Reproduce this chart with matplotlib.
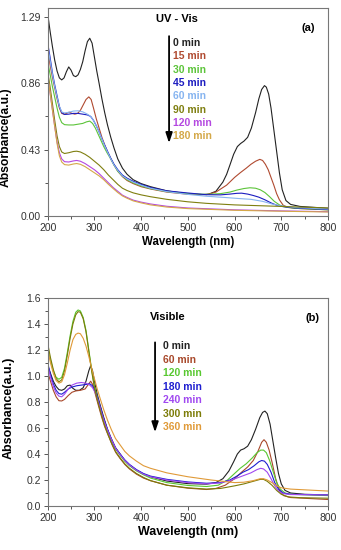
import matplotlib
matplotlib.use("Agg")
import matplotlib.pyplot as plt
from matplotlib.ticker import MultipleLocator, FixedLocator

# ---------------- Panel (a) UV-Vis ----------------
a_labels = ["0 min", "15 min", "30 min", "45 min", "60 min", "90 min", "120 min", "180 min"]
a_colors = ["#222222", "#b04a30", "#5cc43a", "#1c1cc0", "#86b4f0", "#7f7f10", "#b448e0", "#d4a848"]

a_wl_0 = [200, 205, 210, 215, 220, 225, 230, 235, 240, 245, 250, 255, 260, 265, 270, 275, 280, 285, 290,
          295, 300, 305, 310, 316, 322, 328, 335, 342, 350, 360, 370, 383, 400, 420, 455, 490, 526, 545,
          560, 575, 583, 590, 598, 606, 613, 620, 628, 636, 645, 652, 658, 664, 668, 673, 678, 684, 690,
          696, 702, 710, 720, 740, 800]
a_ab_0 = [1.31, 1.20, 1.10, 1.01, 0.94, 0.895, 0.882, 0.895, 0.935, 0.966, 0.945, 0.91, 0.903, 0.915, 0.95,
          1.00, 1.07, 1.13, 1.152, 1.12, 1.03, 0.94, 0.86, 0.76, 0.67, 0.59, 0.51, 0.44, 0.37, 0.31, 0.27,
          0.235, 0.21, 0.19, 0.163, 0.148, 0.138, 0.142, 0.16, 0.22, 0.27, 0.33, 0.40, 0.45, 0.47, 0.485,
          0.51, 0.57, 0.67, 0.76, 0.82, 0.845, 0.835, 0.79, 0.70, 0.56, 0.42, 0.28, 0.17, 0.10, 0.075,
          0.062, 0.05]

a_wl_15 = [200, 205, 210, 215, 220, 225, 230, 235, 240, 246, 252, 258, 264, 270, 276, 282, 288, 293, 298,
           304, 310, 316, 322, 328, 335, 342, 350, 360, 370, 383, 400, 420, 455, 497, 540, 560, 583, 600,
           612, 625, 635, 645, 654, 660, 666, 672, 678, 684, 690, 696, 704, 715, 740, 800]
a_ab_15 = [1.08, 0.98, 0.90, 0.83, 0.76, 0.70, 0.665, 0.66, 0.665, 0.673, 0.665, 0.66, 0.665, 0.685, 0.72,
           0.755, 0.772, 0.755, 0.70, 0.63, 0.57, 0.51, 0.46, 0.415, 0.37, 0.33, 0.29, 0.255, 0.23, 0.21,
           0.19, 0.175, 0.155, 0.142, 0.138, 0.155, 0.20, 0.25, 0.28, 0.31, 0.335, 0.355, 0.367, 0.36,
           0.335, 0.30, 0.25, 0.20, 0.145, 0.105, 0.07, 0.055, 0.048, 0.04]

a_wl_30 = [200, 205, 210, 215, 220, 225, 230, 236, 245, 255, 265, 275, 283, 290, 296, 302, 308, 314, 320,
           327, 335, 342, 350, 360, 370, 383, 400, 420, 455, 500, 540, 570, 590, 605, 620, 633, 645, 655,
           665, 675, 685, 697, 710, 730, 800]
a_ab_30 = [1.00, 0.92, 0.84, 0.77, 0.70, 0.64, 0.605, 0.592, 0.59, 0.59, 0.595, 0.60, 0.61, 0.615, 0.60,
           0.57, 0.53, 0.49, 0.45, 0.41, 0.37, 0.33, 0.29, 0.26, 0.235, 0.215, 0.195, 0.178, 0.158, 0.145,
           0.14, 0.145, 0.155, 0.168, 0.178, 0.183, 0.18, 0.17, 0.152, 0.125, 0.095, 0.07, 0.058, 0.05, 0.04]

a_wl_45 = [200, 205, 210, 215, 220, 225, 230, 236, 245, 255, 265, 275, 285, 292, 298, 304, 310, 316, 322,
           328, 335, 342, 350, 360, 370, 383, 400, 420, 455, 497, 540, 570, 590, 605, 615, 628, 640, 652,
           665, 678, 690, 705, 730, 800]
a_ab_45 = [1.12, 1.03, 0.93, 0.85, 0.78, 0.71, 0.67, 0.658, 0.66, 0.665, 0.665, 0.66, 0.655, 0.645, 0.62,
           0.585, 0.545, 0.50, 0.46, 0.42, 0.375, 0.335, 0.30, 0.265, 0.245, 0.225, 0.205, 0.185, 0.163,
           0.15, 0.138, 0.137, 0.142, 0.147, 0.148, 0.142, 0.133, 0.122, 0.105, 0.085, 0.07, 0.06, 0.052,
           0.042]

a_wl_60 = [200, 205, 210, 215, 220, 225, 230, 236, 245, 255, 265, 275, 285, 292, 298, 304, 310, 316, 322,
           328, 335, 342, 350, 360, 370, 383, 400, 420, 455, 500, 540, 580, 610, 635, 660, 680, 700, 730, 800]
a_ab_60 = [1.10, 1.01, 0.92, 0.84, 0.77, 0.71, 0.675, 0.668, 0.672, 0.68, 0.682, 0.675, 0.66, 0.645, 0.62,
           0.585, 0.545, 0.50, 0.455, 0.415, 0.37, 0.33, 0.295, 0.26, 0.24, 0.22, 0.20, 0.18, 0.158, 0.14,
           0.128, 0.12, 0.113, 0.108, 0.095, 0.078, 0.065, 0.055, 0.045]

a_wl_90 = [200, 205, 210, 215, 220, 225, 230, 236, 245, 255, 262, 270, 280, 290, 300, 310, 320, 330, 340,
           350, 360, 370, 383, 400, 420, 455, 500, 540, 600, 700, 800]
a_ab_90 = [0.935, 0.84, 0.73, 0.62, 0.52, 0.45, 0.415, 0.405, 0.41, 0.418, 0.42, 0.415, 0.40, 0.38, 0.355,
           0.33, 0.30, 0.265, 0.235, 0.205, 0.18, 0.165, 0.15, 0.137, 0.125, 0.108, 0.092, 0.082, 0.072,
           0.062, 0.052]

a_wl_120 = [200, 205, 210, 215, 220, 225, 230, 236, 245, 255, 262, 270, 280, 290, 300, 310, 320, 330, 340,
            350, 360, 370, 383, 400, 420, 455, 500, 600, 700, 800]
a_ab_120 = [0.90, 0.80, 0.69, 0.58, 0.48, 0.41, 0.37, 0.352, 0.35, 0.357, 0.36, 0.355, 0.34, 0.32, 0.30,
            0.275, 0.245, 0.215, 0.185, 0.16, 0.135, 0.12, 0.103, 0.09, 0.078, 0.063, 0.052, 0.04, 0.033,
            0.028]

a_wl_180 = [200, 205, 210, 215, 220, 225, 230, 236, 245, 255, 262, 270, 280, 290, 300, 310, 320, 330, 340,
            350, 360, 370, 383, 400, 420, 455, 500, 600, 700, 800]
a_ab_180 = [0.91, 0.80, 0.69, 0.58, 0.47, 0.39, 0.35, 0.333, 0.33, 0.337, 0.34, 0.335, 0.32, 0.30, 0.28,
            0.26, 0.235, 0.205, 0.178, 0.152, 0.13, 0.115, 0.098, 0.085, 0.072, 0.058, 0.048, 0.037, 0.031,
            0.026]

a_wls = [a_wl_0, a_wl_15, a_wl_30, a_wl_45, a_wl_60, a_wl_90, a_wl_120, a_wl_180]
a_abs = [a_ab_0, a_ab_15, a_ab_30, a_ab_45, a_ab_60, a_ab_90, a_ab_120, a_ab_180]
a_yticks = [0.00, 0.43, 0.86, 1.29]

# ---------------- Panel (b) Visible ----------------
b_labels = ["0 min", "60 min", "120 min", "180 min", "240 min", "300 min", "360 min"]
b_colors = ["#222222", "#a8482a", "#58c830", "#1e1ed0", "#a048f0", "#7c7c08", "#e09a38"]

b_wl_0 = [200, 206, 212, 218, 224, 230, 236, 242, 248, 254, 260, 268, 276, 282, 288, 292, 296, 300, 306,
          312, 320, 328, 336, 345, 355, 365, 375, 390, 405, 420, 455, 500, 540, 560, 575, 588, 598, 606,
          613, 620, 628, 636, 645, 654, 660, 665, 670, 676, 682, 688, 694, 700, 708, 720, 750, 800]
b_ab_0 = [1.08, 1.02, 0.96, 0.92, 0.895, 0.89, 0.90, 0.925, 0.93, 0.905, 0.89, 0.89, 0.91, 0.96, 1.04, 1.08,
          1.04, 0.96, 0.86, 0.78, 0.68, 0.59, 0.52, 0.45, 0.40, 0.35, 0.315, 0.275, 0.245, 0.225, 0.192,
          0.172, 0.168, 0.18, 0.21, 0.27, 0.34, 0.40, 0.43, 0.44, 0.46, 0.51, 0.59, 0.68, 0.72, 0.73, 0.71,
          0.63, 0.50, 0.37, 0.25, 0.17, 0.12, 0.10, 0.09, 0.085]

b_wl_60 = [200, 206, 212, 218, 224, 230, 236, 244, 252, 260, 270, 280, 286, 292, 297, 302, 308, 315, 322,
           330, 338, 346, 355, 365, 375, 390, 405, 420, 455, 500, 540, 560, 580, 600, 615, 628, 640, 650,
           658, 663, 668, 674, 680, 688, 696, 705, 720, 800]
b_ab_60 = [1.03, 0.96, 0.89, 0.84, 0.81, 0.808, 0.82, 0.85, 0.875, 0.885, 0.89, 0.90, 0.93, 0.96, 0.93,
           0.86, 0.78, 0.69, 0.61, 0.54, 0.47, 0.41, 0.365, 0.32, 0.285, 0.245, 0.215, 0.195, 0.16, 0.137,
           0.127, 0.135, 0.16, 0.21, 0.26, 0.30, 0.35, 0.42, 0.49, 0.51, 0.49, 0.43, 0.34, 0.21, 0.12, 0.08,
           0.065, 0.05]

b_wl_120 = [200, 206, 212, 218, 224, 230, 236, 242, 248, 254, 260, 265, 270, 276, 282, 288, 294, 300, 306,
            312, 320, 328, 336, 345, 355, 365, 375, 390, 405, 420, 455, 500, 540, 565, 585, 600, 612, 625,
            638, 648, 656, 662, 668, 675, 683, 690, 698, 708, 720, 800]
b_ab_120 = [1.22, 1.12, 1.04, 0.99, 0.975, 0.99, 1.06, 1.18, 1.31, 1.42, 1.49, 1.508, 1.50, 1.45, 1.35,
            1.20, 1.05, 0.92, 0.84, 0.76, 0.66, 0.58, 0.51, 0.44, 0.39, 0.345, 0.31, 0.27, 0.24, 0.215,
            0.18, 0.158, 0.15, 0.16, 0.20, 0.25, 0.29, 0.325, 0.37, 0.41, 0.43, 0.43, 0.41, 0.35, 0.26,
            0.18, 0.13, 0.10, 0.09, 0.08]

b_wl_180 = [200, 206, 212, 218, 224, 230, 236, 244, 252, 262, 272, 282, 290, 296, 302, 308, 315, 322, 330,
            338, 346, 355, 365, 375, 390, 405, 420, 455, 500, 540, 570, 590, 605, 618, 630, 642, 652, 658,
            664, 670, 678, 686, 694, 704, 720, 800]
b_ab_180 = [1.10, 1.01, 0.94, 0.89, 0.865, 0.86, 0.875, 0.90, 0.915, 0.925, 0.93, 0.935, 0.94, 0.925, 0.88,
            0.82, 0.73, 0.65, 0.57, 0.50, 0.44, 0.40, 0.355, 0.32, 0.28, 0.25, 0.23, 0.205, 0.185, 0.175,
            0.18, 0.20, 0.23, 0.26, 0.28, 0.31, 0.34, 0.35, 0.345, 0.32, 0.26, 0.18, 0.13, 0.10, 0.09, 0.085]

b_wl_240 = [200, 206, 212, 218, 224, 230, 236, 244, 252, 262, 272, 282, 290, 296, 302, 308, 315, 322, 330,
            338, 346, 355, 365, 375, 390, 405, 420, 455, 500, 540, 570, 590, 605, 620, 635, 648, 656, 662,
            670, 678, 686, 694, 704, 720, 800]
b_ab_240 = [1.08, 0.99, 0.92, 0.87, 0.845, 0.84, 0.86, 0.90, 0.93, 0.945, 0.95, 0.945, 0.93, 0.91, 0.87,
            0.81, 0.72, 0.64, 0.565, 0.50, 0.44, 0.395, 0.35, 0.315, 0.275, 0.245, 0.225, 0.20, 0.18, 0.17,
            0.178, 0.195, 0.215, 0.235, 0.255, 0.28, 0.29, 0.285, 0.26, 0.21, 0.155, 0.115, 0.095, 0.088,
            0.085]

b_wl_300 = [200, 206, 212, 218, 224, 230, 236, 242, 248, 254, 260, 265, 270, 276, 282, 288, 294, 300, 306,
            312, 320, 328, 336, 345, 355, 365, 375, 390, 405, 420, 455, 500, 540, 570, 600, 620, 640, 655,
            662, 670, 680, 690, 700, 715, 740, 800]
b_ab_300 = [1.25, 1.14, 1.05, 0.98, 0.955, 0.97, 1.04, 1.16, 1.29, 1.40, 1.47, 1.495, 1.49, 1.44, 1.34,
            1.19, 1.04, 0.91, 0.82, 0.74, 0.64, 0.56, 0.49, 0.42, 0.37, 0.325, 0.29, 0.25, 0.22, 0.195, 0.16,
            0.14, 0.13, 0.135, 0.155, 0.17, 0.19, 0.205, 0.205, 0.19, 0.16, 0.12, 0.09, 0.07, 0.064, 0.06]

b_wl_360 = [200, 206, 212, 218, 224, 230, 236, 242, 248, 254, 260, 265, 270, 276, 282, 288, 294, 300, 306,
            312, 320, 328, 336, 345, 355, 365, 375, 390, 405, 420, 455, 500, 550, 600, 620, 640, 655, 662,
            670, 680, 690, 700, 720, 800]
b_ab_360 = [1.20, 1.10, 1.02, 0.965, 0.945, 0.955, 1.01, 1.10, 1.20, 1.28, 1.32, 1.33, 1.325, 1.29, 1.23,
            1.15, 1.06, 0.98, 0.90, 0.83, 0.74, 0.66, 0.59, 0.52, 0.47, 0.42, 0.385, 0.345, 0.31, 0.29, 0.255,
            0.225, 0.20, 0.18, 0.183, 0.195, 0.21, 0.21, 0.20, 0.18, 0.155, 0.14, 0.13, 0.115]

b_wls = [b_wl_0, b_wl_60, b_wl_120, b_wl_180, b_wl_240, b_wl_300, b_wl_360]
b_abs = [b_ab_0, b_ab_60, b_ab_120, b_ab_180, b_ab_240, b_ab_300, b_ab_360]
b_yticks = [0.0, 0.2, 0.4, 0.6, 0.8, 1.0, 1.2, 1.4, 1.6]

x_ticks = [200, 300, 400, 500, 600, 700, 800]

# ---------------- Figure ----------------
W, H = 341, 550
fig = plt.figure(figsize=(W / 100, H / 100), dpi=100)
plt.rcParams['font.family'] = ['Liberation Sans', 'DejaVu Sans']


def px_axes(x0, x1, y0, y1):
    return fig.add_axes([x0 / W, 1 - y1 / H, (x1 - x0) / W, (y1 - y0) / H])


def style(ax, xl_size, yl_size):
    for s in ax.spines.values():
        s.set_color("#777777")
        s.set_linewidth(0.8)
    ax.tick_params(which="both", direction="out", colors="#555555", labelcolor="#333333", labelsize=7.5,
                   width=0.7, pad=2)
    ax.tick_params(which="major", length=3)
    ax.tick_params(which="minor", length=2)
    ax.set_xlim(200, 800)
    ax.xaxis.set_major_locator(FixedLocator(x_ticks))
    ax.xaxis.set_minor_locator(MultipleLocator(50))
    ax.set_xlabel("Wavelength (nm)", fontsize=xl_size, fontweight="bold", labelpad=2)
    ax.set_ylabel("Absorbance(a.u.)", fontsize=yl_size, fontweight="bold")


# Panel a
ax1 = px_axes(47.7, 328, 8, 216)
for wl, ab, c in zip(a_wls, a_abs, a_colors):
    ax1.plot(wl, ab, color=c, lw=0.8)
ax1.set_ylim(0, 1.348)
ax1.yaxis.set_major_locator(FixedLocator(a_yticks))
ax1.yaxis.set_minor_locator(FixedLocator([0.215, 0.645, 1.075]))
ax1.set_yticklabels([f"{v:.2f}" for v in a_yticks])
style(ax1, 8.3, 8.7)
ax1.yaxis.set_label_coords(-0.127, 0.38)
ax1.text(0.46, 0.947, "UV - Vis", transform=ax1.transAxes, ha="center", va="center", fontsize=8,
         fontweight="bold")
ax1.text(0.93, 0.905, "(a)", transform=ax1.transAxes, ha="center", va="center", fontsize=8, fontweight="bold")
ax1.annotate("", xy=(0.433, 0.337), xytext=(0.433, 0.878), xycoords="axes fraction",
             arrowprops=dict(arrowstyle="-|>,head_length=0.6,head_width=0.2", color="black", lw=1.3))
for i, (lab, c) in enumerate(zip(a_labels, a_colors)):
    ax1.text(0.447, 0.832 - i * 0.064, lab, transform=ax1.transAxes, ha="left", va="center", fontsize=7.5,
             fontweight="bold", color=c)

# Panel b
ax2 = px_axes(47.7, 328, 298, 506)
for wl, ab, c in zip(b_wls, b_abs, b_colors):
    ax2.plot(wl, ab, color=c, lw=0.8)
ax2.set_ylim(0, 1.6)
ax2.yaxis.set_major_locator(FixedLocator(b_yticks))
ax2.yaxis.set_minor_locator(MultipleLocator(0.1))
ax2.set_yticklabels([f"{v:.1f}" for v in b_yticks])
style(ax2, 9, 9)
ax2.yaxis.set_label_coords(-0.117, 0.47)
ax2.text(0.43, 0.909, "Visible", transform=ax2.transAxes, ha="center", va="center", fontsize=8,
         fontweight="bold")
ax2.text(0.943, 0.904, "(b)", transform=ax2.transAxes, ha="center", va="center", fontsize=8, fontweight="bold")
ax2.annotate("", xy=(0.383, 0.341), xytext=(0.383, 0.80), xycoords="axes fraction",
             arrowprops=dict(arrowstyle="-|>,head_length=0.6,head_width=0.2", color="black", lw=1.3))
for i, (lab, c) in enumerate(zip(b_labels, b_colors)):
    ax2.text(0.411, 0.769 - i * 0.065, lab, transform=ax2.transAxes, ha="left", va="center", fontsize=7.5,
             fontweight="bold", color=c)

fig.savefig("out.png", dpi=100)
